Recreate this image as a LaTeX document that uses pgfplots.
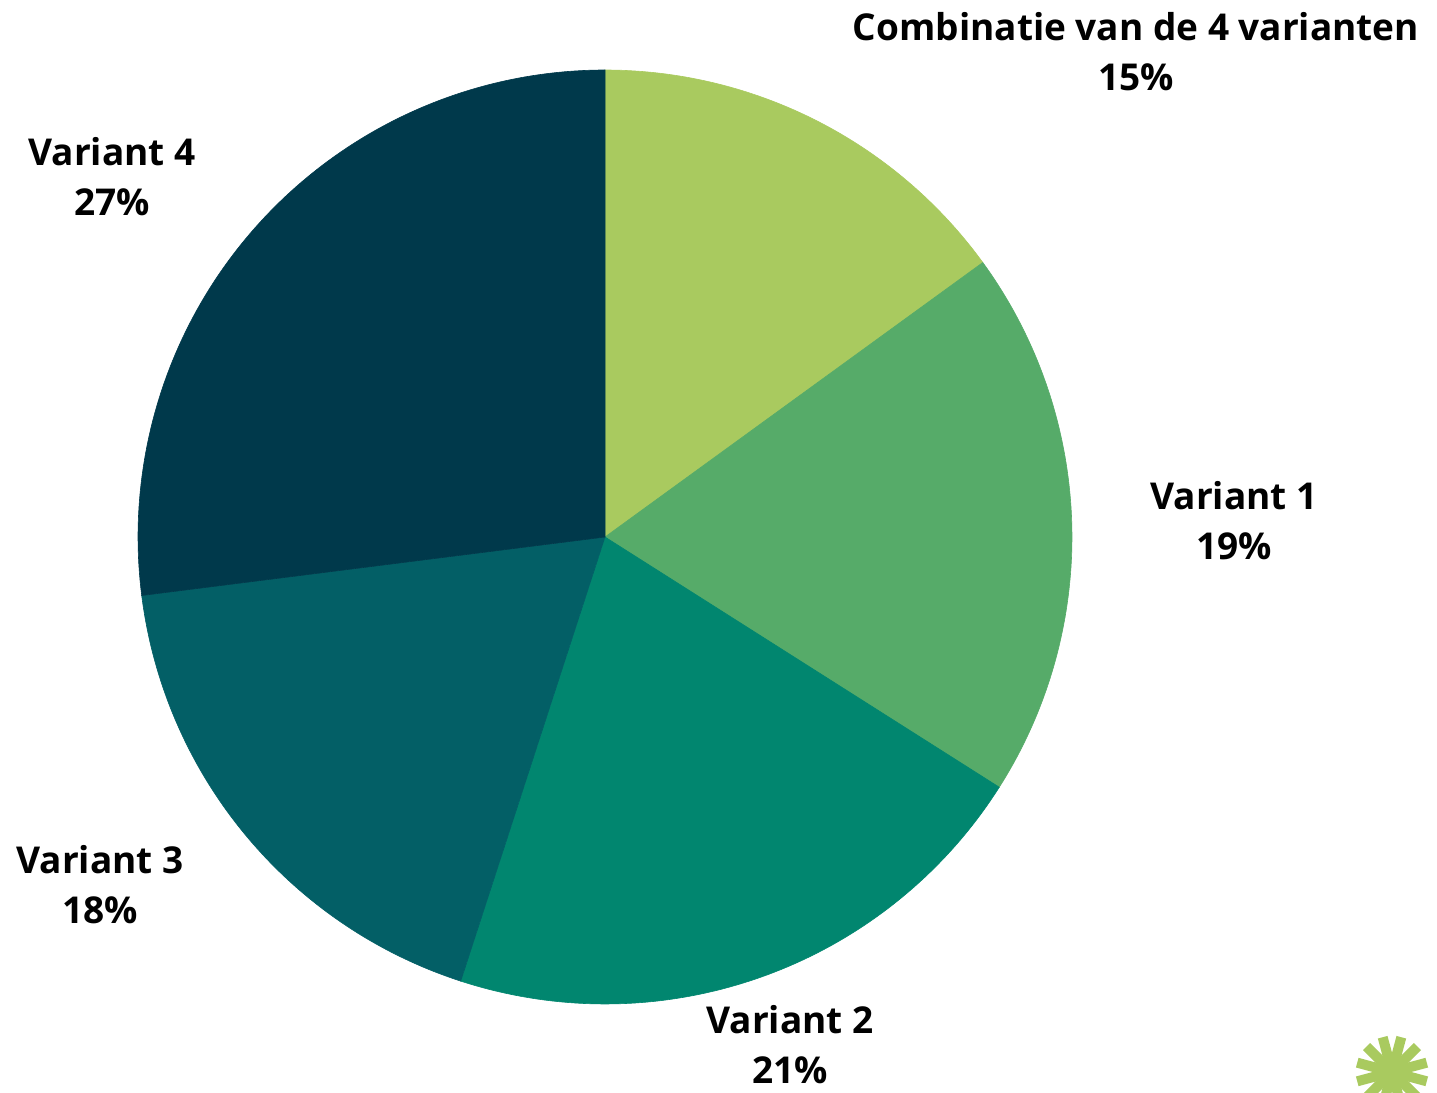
\documentclass[border=0pt]{standalone}
\usepackage{pgfplots}
\pgfplotsset{compat=1.18}
\usepackage{fontspec}
\setmainfont{Open Sans}
\definecolor{cComb}{HTML}{A9CA5F}
\definecolor{cV1}{HTML}{56AB69}
\definecolor{cV2}{HTML}{01866F}
\definecolor{cV3}{HTML}{035F66}
\definecolor{cV4}{HTML}{00394B}
\tikzset{lbl/.style={font=\fontsize{18.5}{25}\selectfont\bfseries, align=center, text=black, inner sep=0pt}}
\begin{document}
\begin{tikzpicture}
\begin{axis}[
  scale only axis, width=718.5pt, height=546.5pt,
  xmin=0, xmax=1437, ymin=0, ymax=1093,
  hide axis, clip=false,
]
% shares (percent): Combinatie 15, V1 19, V2 21, V3 18, V4 27 ; clockwise from top
\addplot[fill=cComb, draw=cComb, line width=0.3pt, domain=36:90, samples=80] ({605+467*cos(x)},{556+467*sin(x)}) -- (axis cs:605,556) -- cycle;
\addplot[fill=cV1, draw=cV1, line width=0.3pt, domain=-32.4:36, samples=80] ({605+467*cos(x)},{556+467*sin(x)}) -- (axis cs:605,556) -- cycle;
\addplot[fill=cV2, draw=cV2, line width=0.3pt, domain=-108:-32.4, samples=80] ({605+467*cos(x)},{556+467*sin(x)}) -- (axis cs:605,556) -- cycle;
\addplot[fill=cV3, draw=cV3, line width=0.3pt, domain=-172.8:-108, samples=80] ({605+467*cos(x)},{556+467*sin(x)}) -- (axis cs:605,556) -- cycle;
\addplot[fill=cV4, draw=cV4, line width=0.3pt, domain=-270:-172.8, samples=100] ({605+467*cos(x)},{556+467*sin(x)}) -- (axis cs:605,556) -- cycle;

\node[lbl] at (axis cs:1136,1041) {Combinatie van de 4 varianten\\15\%};
\node[lbl] at (axis cs:1234,572) {Variant 1\\19\%};
\node[lbl] at (axis cs:790,48) {Variant 2\\21\%};
\node[lbl] at (axis cs:100,208) {Variant 3\\18\%};
\node[lbl] at (axis cs:112,916) {Variant 4\\27\%};

\begin{scope}
\clip (axis cs:0,0) rectangle (axis cs:1437,1093);
\pgfplotsinvokeforeach{0,30,...,330}{
  \draw[cComb, line width=5pt] (axis cs:1392,21) -- (axis cs:{1392+36*cos(#1+15)},{21+36*sin(#1+15)});
}
\fill[cComb] (axis cs:1392,21) circle[radius=9pt];
\end{scope}
\path (axis cs:0,0) rectangle (axis cs:1437,1093);
\end{axis}
\useasboundingbox (current axis.south west) rectangle (current axis.north east);
\end{tikzpicture}
\end{document}
